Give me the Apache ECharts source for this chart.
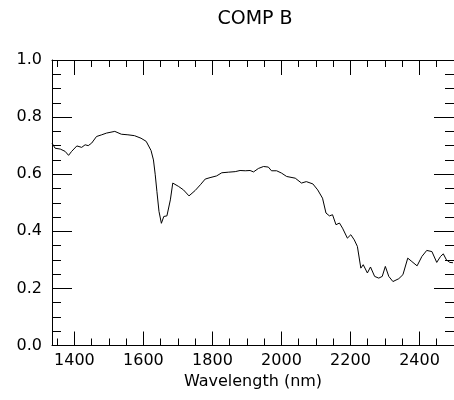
<!DOCTYPE html>
<html>
<head>
<meta charset="utf-8">
<script src="https://cdn.jsdelivr.net/npm/echarts@6/dist/echarts.min.js"></script>
<style>html,body{margin:0;padding:0;background:#fff;}#c{width:454px;height:400px;}</style>
</head>
<body>
<div id="c"></div>
<script>
var wavelengths = [1335,1344,1359,1373,1383,1392,1407,1421,1431,1440,1450,1464,1479,1493,1517,1536,1555,1574,1593,1608,1622,1629,1634,1639,1645,1652,1659,1668,1678,1685,1702,1716,1732,1750,1765,1779,1793,1812,1827,1846,1866,1880,1895,1909,1919,1933,1948,1962,1971,1986,2000,2015,2040,2058,2072,2091,2105,2119,2129,2139,2148,2158,2168,2177,2191,2201,2211,2220,2230,2237,2249,2258,2270,2282,2292,2301,2311,2323,2340,2352,2366,2378,2393,2407,2421,2436,2450,2461,2469,2478,2488,2497];
var reflectance = [0.709,0.691,0.688,0.680,0.666,0.680,0.699,0.694,0.703,0.700,0.709,0.732,0.738,0.744,0.750,0.740,0.738,0.735,0.726,0.715,0.683,0.650,0.600,0.540,0.470,0.428,0.452,0.454,0.510,0.569,0.557,0.545,0.524,0.543,0.563,0.583,0.588,0.594,0.605,0.607,0.609,0.613,0.612,0.613,0.608,0.620,0.627,0.625,0.612,0.612,0.604,0.592,0.586,0.569,0.574,0.566,0.545,0.516,0.464,0.454,0.458,0.423,0.429,0.411,0.376,0.388,0.370,0.347,0.271,0.283,0.254,0.275,0.242,0.236,0.242,0.277,0.242,0.224,0.234,0.248,0.306,0.294,0.279,0.312,0.333,0.329,0.291,0.312,0.321,0.300,0.291,0.290];
var xMajorTicks = [1400,1600,1800,2000,2200,2400];
var xMinorTicks = [1350,1450,1500,1550,1650,1700,1750,1850,1900,1950,2050,2100,2150,2250,2300,2350,2450];
var titleText = 'COMP B';
var xName = 'Wavelength (nm)';

var FONT = 'DejaVu Sans';
var data = wavelengths.map(function(w,i){return [w, reflectance[i]];});
var chart = echarts.init(document.getElementById('c'), null, {renderer:'canvas'});
var lineCol = '#000';
function xAx(pos, ticks, len, showLine, showLabel, extra){
  var a = {
    type:'value', position:pos, min:1335, max:2500, gridIndex:0,
    axisLine:{show:showLine, lineStyle:{color:lineCol,width:1}},
    axisTick:{show:true, inside:true, length:len, customValues:ticks, lineStyle:{color:lineCol,width:1}},
    axisLabel:{show:showLabel, customValues:ticks, color:'#000', fontFamily:FONT, fontSize:16, margin:7,
      formatter:function(v){return String(v);}},
    splitLine:{show:false}
  };
  if (extra) for (var k in extra) a[k]=extra[k];
  return a;
}
function yAx(pos, showLabel){
  return {
    type:'value', position:pos, min:0, max:1, interval:0.2,
    axisLine:{show:true, lineStyle:{color:lineCol,width:1}},
    axisTick:{show:true, inside:true, length:20, lineStyle:{color:lineCol,width:1}},
    minorTick:{show:true, splitNumber:4, length:9, lineStyle:{color:lineCol,width:1}},
    axisLabel:{show:showLabel, color:'#000', fontFamily:FONT, fontSize:16, margin:10,
      formatter:function(v){return v.toFixed(1);}},
    splitLine:{show:false}, minorSplitLine:{show:false}
  };
}
chart.setOption({
  animation:false,
  backgroundColor:'#fff',
  title:{text:titleText, left:250, top:5, textAlign:'center',
    textStyle:{fontFamily:FONT, fontSize:19, fontWeight:'normal', color:'#000'}},
  grid:{left:52, top:60, width:406, height:285.5, containLabel:false},
  xAxis:[
    xAx('bottom', xMajorTicks, 14, true, true, {name:xName, nameLocation:'middle', nameGap:25,
      nameTextStyle:{fontFamily:FONT, fontSize:16, color:'#000'}}),
    xAx('bottom', xMinorTicks, 7, false, false),
    xAx('top', xMajorTicks, 15, true, false),
    xAx('top', xMinorTicks, 7, false, false)
  ],
  yAxis:[ yAx('left', true), yAx('right', false) ],
  series:[{
    type:'line', xAxisIndex:0, yAxisIndex:0, data:data,
    showSymbol:false, symbol:'none', smooth:false,
    lineStyle:{color:'#000', width:1}, clip:true
  }]
});
</script>
</body>
</html>
